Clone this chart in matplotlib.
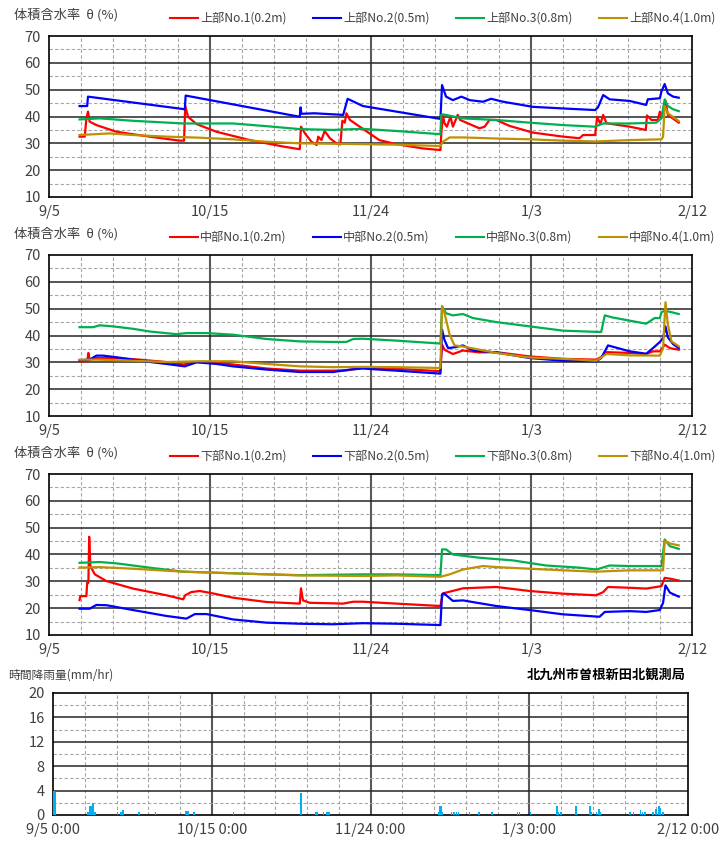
import matplotlib
matplotlib.use("Agg")
import matplotlib.pyplot as plt
from matplotlib.lines import Line2D

plt.rcParams['font.family'] = ['Noto Sans CJK JP', 'DejaVu Sans']

# x axis: days since 9/5 0:00
x_ticks = [0, 40, 80, 120, 160]
x_labels = ["9/5", "10/15", "11/24", "1/3", "2/12"]
rain_x_labels = ["9/5 0:00", "10/15 0:00", "11/24 0:00", "1/3 0:00", "2/12 0:00"]
colors = ["#FF0000", "#0000FF", "#00B050", "#BF9000"]

# ---- 上部 ----
up1_day = [7.6, 8.9, 9.3, 9.7, 10.1, 11.8, 16.8, 25, 32.5, 33.6, 33.9, 34.6, 36.7, 41.7, 50, 58.3, 62.4, 62.7,
           63.7, 65.3, 66.6, 67, 67.8, 68.6, 69.9, 71.5, 72.5, 73, 73.6, 74, 74.9, 78, 82.2, 86.4, 93, 97.4,
           97.6, 98, 98.4, 99, 99.9, 100.5, 101.7, 102.3, 107.1, 108.4, 109.6, 111.3, 114.6, 120.4, 127.9, 132,
           132.9, 135.9, 136.4, 137.2, 137.9, 138.7, 144.5, 148.5, 148.8, 149.9, 151.5, 152, 152.5, 153.4, 154,
           156.7]
up1_val = [32.5, 32.5, 39.3, 41.8, 38.1, 36.8, 34.3, 32.5, 31.0, 31.0, 43.9, 39.9, 37.2, 34.3, 31.2, 28.8, 27.8,
           36.2, 33.7, 30.6, 29.4, 32.5, 31.2, 34.6, 31.9, 30.0, 29.6, 38.4, 37.7, 41.2, 38.7, 35.5, 31.2, 29.7,
           28.1, 27.5, 33.1, 40.6, 37.5, 36.2, 39.9, 36.2, 40.6, 38.7, 35.6, 36.2, 38.7, 38.7, 36.5, 34.0, 32.5,
           31.9, 33.1, 33.1, 39.9, 37.2, 40.6, 37.5, 36.2, 35.0, 40.4, 38.7, 38.7, 41.8, 39.9, 45.9, 40.6, 37.7]
up2_day = [7.6, 9.5, 9.7, 33.8, 34.0, 62.4, 62.6, 62.8, 66, 73.2, 74.3, 78.1, 97.4, 97.8, 98.8, 100.5, 102.6,
           104.7, 108, 110, 113, 120.4, 127.9, 135.9, 136.6, 137.9, 139.5, 144.5, 148.6, 149, 152, 152.4, 153.2,
           154, 155.3, 156.7]
up2_val = [43.9, 43.9, 47.4, 42.7, 47.8, 39.9, 43.4, 41.0, 41.2, 40.6, 46.6, 43.9, 39.1, 51.7, 47.4, 46.1, 47.4,
           46.1, 45.5, 46.6, 45.5, 43.6, 43.0, 42.4, 43.4, 48.0, 46.4, 45.8, 44.3, 46.4, 46.8, 49.3, 52.1, 48.6,
           47.4, 47.0]
up3_day = [7.6, 12.6, 20.9, 33.4, 45.8, 54.1, 62.4, 70.7, 74, 78, 86.4, 97.4, 97.6, 98, 103, 111.3, 119.6, 127.9,
           135.9, 137.9, 144.5, 151.1, 152.4, 153.2, 154, 155.3, 156.7]
up3_val = [38.9, 39.3, 38.4, 37.4, 37.4, 36.4, 35.3, 35.0, 35.2, 35.4, 34.6, 33.4, 40.6, 40.8, 39.3, 38.7, 37.7,
           36.8, 36.2, 37.4, 37.4, 37.7, 39.3, 46.4, 43.9, 42.7, 42.0]
up4_day = [7.6, 12.6, 15.1, 20.9, 29.2, 37.5, 45.8, 54.1, 62.4, 78, 86.4, 97.4, 98, 99.7, 103, 111.3, 119.6, 127.9,
           135.9, 144.5, 152.4, 152.8, 153.2, 154, 156.7]
up4_val = [33.1, 33.5, 33.7, 33.1, 32.5, 32.1, 31.5, 30.6, 30.0, 29.7, 29.5, 29.0, 30.6, 32.2, 32.2, 31.8, 31.5,
           31.0, 30.7, 31.2, 31.5, 32.5, 43.9, 41.2, 38.3]

# ---- 中部 ----
mid1_day = [7.6, 9.5, 9.8, 10.1, 11.8, 16.8, 22.6, 29.2, 33.4, 36.7, 41.7, 45.8, 54.1, 62.4, 70.7, 74, 78, 86.4,
            97.4, 97.8, 98.4, 100.5, 103, 107.1, 111.3, 119.6, 127.9, 136.2, 137.4, 138.7, 144.5, 148.6, 150.3,
            152, 153.2, 154.5, 156.7]
mid1_val = [30.4, 30.4, 33.5, 31.0, 31.6, 31.6, 31.0, 30.1, 29.2, 30.1, 29.8, 29.2, 27.7, 26.9, 26.9, 27.0, 27.9,
            27.6, 26.7, 36.6, 34.7, 33.1, 34.4, 33.7, 33.8, 32.2, 31.3, 31.0, 32.0, 33.8, 33.5, 33.1, 34.1, 34.1,
            36.6, 35.3, 34.7]
mid2_day = [7.6, 10.1, 11.8, 13.4, 16.8, 22.6, 29.2, 33.8, 36.7, 41.7, 45.8, 54.1, 62.4, 70.7, 74.9, 78, 86.4,
            97.4, 97.8, 98.4, 99.3, 100.9, 103, 105.5, 111.3, 119.6, 127.9, 136.2, 137.4, 139.1, 144.5, 148.6,
            150.3, 152, 152.8, 153.4, 154, 155.3, 156.7]
mid2_val = [30.8, 31.0, 32.5, 32.5, 31.9, 30.6, 29.4, 28.5, 30.0, 29.4, 28.5, 27.3, 26.4, 26.4, 27.3, 27.7, 26.9,
            25.8, 42.2, 38.4, 35.3, 35.6, 36.3, 34.4, 33.7, 31.6, 30.6, 30.4, 31.6, 36.3, 34.1, 33.2, 35.3, 37.6,
            39.1, 43.4, 39.3, 36.8, 35.3]
mid3_day = [7.6, 11, 12.6, 15.9, 20.9, 25, 31.7, 34.2, 39.2, 45.8, 54.1, 62.4, 70.7, 74, 75.7, 78, 86.4, 97.4,
            97.8, 98.8, 100.5, 103, 105.5, 111.3, 119.6, 127.9, 137.4, 138.3, 140.3, 148.6, 150.7, 152, 152.4,
            153.2, 154.9, 156.7]
mid3_val = [43.1, 43.1, 43.8, 43.4, 42.5, 41.5, 40.5, 40.9, 40.9, 40.3, 38.7, 37.8, 37.6, 37.6, 38.7, 38.8, 38.1,
            37.0, 50.9, 48.3, 47.5, 48.0, 46.5, 45.0, 43.4, 41.8, 41.3, 47.5, 46.7, 44.4, 46.5, 46.5, 48.7, 49.2,
            48.7, 48.0]
mid4_day = [7.6, 12.6, 20.9, 29.2, 37.5, 45.8, 54.1, 62.4, 70.7, 78, 86.4, 97.4, 97.8, 98.4, 99.7, 100.9, 103,
            111.3, 119.6, 127.9, 136.2, 138.7, 144.5, 152, 152.8, 153.4, 154, 154.9, 156.7]
mid4_val = [31.0, 31.0, 30.6, 30.1, 30.4, 30.4, 29.4, 28.5, 28.2, 28.3, 28.2, 27.9, 50.9, 48.4, 40.3, 36.3, 35.9,
            33.5, 31.8, 31.3, 30.6, 33.1, 32.6, 32.5, 35.3, 52.4, 44.0, 37.8, 36.0]

# ---- 下部 ----
low1_day = [7.6, 7.8, 9.3, 9.5, 9.8, 10.0, 10.3, 11.4, 14.3, 20.9, 29.2, 33.4, 33.9, 35.4, 37.5, 40.8, 45.8,
            54.1, 62.4, 62.7, 63.2, 64.9, 70.7, 73.2, 75.7, 78, 86.4, 97.4, 97.8, 98, 103, 111.3, 119.6, 127.9,
            136.2, 137.9, 139.1, 144.5, 148.6, 152.4, 153.2, 154.5, 156.7]
low1_val = [23.0, 24.5, 24.5, 29.5, 29.5, 46.6, 35.7, 32.6, 30.1, 27.3, 24.8, 23.3, 24.8, 26.0, 26.4, 25.5, 23.9,
            22.3, 21.7, 27.4, 22.9, 22.0, 21.8, 21.7, 22.4, 22.4, 21.7, 20.8, 23.9, 25.5, 27.4, 27.9, 26.4, 25.4,
            24.8, 26.0, 27.9, 27.6, 27.3, 28.2, 31.3, 31.0, 30.3]
low2_day = [7.6, 10.1, 11.8, 14.3, 20.9, 29.2, 34.2, 36.3, 39.2, 45.8, 54.1, 62.4, 70.7, 78, 86.4, 97.4, 97.8,
            98.3, 100.5, 103, 111.3, 119.6, 127.9, 137, 138.3, 144.5, 148.6, 152, 152.8, 153.4, 154.5, 156.7]
low2_val = [19.8, 19.8, 21.2, 21.1, 19.3, 17.1, 16.1, 17.8, 17.8, 15.8, 14.6, 14.2, 14.0, 14.4, 14.2, 13.7, 25.1,
            25.5, 22.7, 22.9, 20.8, 19.3, 17.7, 16.8, 18.6, 18.9, 18.6, 19.3, 22.0, 28.5, 25.8, 24.3]
low3_day = [7.6, 12.6, 16.8, 25, 33.4, 41.7, 50, 62.4, 78, 86.4, 97.4, 97.8, 98.8, 100.5, 107.1, 115.4, 123.7,
            132, 136.2, 139.5, 144.5, 152.4, 153.2, 154.5, 156.7]
low3_val = [36.9, 37.2, 36.7, 35.1, 33.6, 33.2, 32.8, 32.3, 32.6, 32.6, 32.3, 41.9, 41.9, 40.0, 38.8, 37.8, 35.9,
            35.1, 34.4, 35.9, 35.7, 35.7, 45.6, 43.1, 42.1]
low4_day = [7.6, 12.6, 20.9, 33.4, 45.8, 54.1, 62.4, 78, 86.4, 97.4, 99.7, 103, 108, 111.3, 119.6, 127.9, 136.2,
            144.5, 152.8, 153.2, 154.5, 156.7]
low4_val = [35.1, 35.3, 34.7, 33.6, 33.0, 32.6, 32.2, 32.0, 32.2, 31.7, 32.6, 34.4, 35.7, 35.3, 34.7, 34.1, 33.6,
            34.1, 34.1, 45.0, 44.1, 43.4]

# ---- 時間降雨量 ----
rain_day = [0.3, 0.6, 8.8, 9.2, 9.6, 9.9, 10.2, 10.6, 16.2, 17.1, 17.6, 21.7, 25.9, 33.4, 33.8, 34.2, 35.5,
            45.5, 62.5, 66.1, 66.5, 68.1, 69.0, 69.5, 97.1, 97.4, 97.8, 98.1, 100.4, 101.0, 101.6, 102.2, 104.9,
            107.3, 110.6, 117.1, 117.6, 120.3, 127.0, 127.4, 128.0, 131.8, 135.3, 135.7, 136.9, 137.6, 138.0,
            145.4, 146.2, 148.1, 148.6, 149.2, 151.2, 151.9, 152.1, 152.7, 153.1, 153.7]
rain_val = [4.0, 3.8, 0.5, 1.5, 1.5, 1.9, 1.9, 0.5, 0.5, 0.5, 0.9, 0.5, 0.5, 0.6, 0.6, 0.6, 0.5,
            0.5, 3.6, 0.5, 0.5, 0.5, 0.5, 0.5, 0.5, 1.5, 1.5, 0.5, 0.5, 0.5, 0.5, 0.5, 0.5,
            0.5, 0.5, 0.5, 0.5, 0.5, 1.5, 0.5, 0.5, 1.5, 1.5, 0.5, 0.5, 1.0, 0.5,
            0.5, 0.5, 0.9, 0.5, 0.5, 0.5, 1.0, 0.5, 1.5, 1.1, 0.5]

panels = [
    ("上部", [(up1_day, up1_val), (up2_day, up2_val), (up3_day, up3_val), (up4_day, up4_val)]),
    ("中部", [(mid1_day, mid1_val), (mid2_day, mid2_val), (mid3_day, mid3_val), (mid4_day, mid4_val)]),
    ("下部", [(low1_day, low1_val), (low2_day, low2_val), (low3_day, low3_val), (low4_day, low4_val)]),
]
depth_labels = ["No.1(0.2m)", "No.2(0.5m)", "No.3(0.8m)", "No.4(1.0m)"]

W, H = 725, 841
fig = plt.figure(figsize=(W / 100, H / 100), dpi=100)
txt_col = "#404040"


def style_grid(ax, ymin, ymax, ymajor, yminor):
    ax.set_xlim(0, 160)
    ax.set_ylim(ymin, ymax)
    for d in range(8, 160, 8):
        if d % 40:
            ax.axvline(d, color="#A6A6A6", lw=0.8, ls=(0, (3, 2)), zorder=0)
    for d in (40, 80, 120):
        ax.axvline(d, color="#595959", lw=1.5, zorder=0)
    y = ymin + yminor
    while y < ymax:
        ax.axhline(y, color="#A6A6A6", lw=0.8, ls=(0, (3, 2)), zorder=0)
        y += ymajor
    y = ymin + ymajor
    while y < ymax:
        ax.axhline(y, color="#262626", lw=1.1, zorder=0)
        y += ymajor
    ax.tick_params(length=0, labelsize=10.5, labelcolor=txt_col, pad=6)
    for s in ax.spines.values():
        s.set_color("black")
        s.set_linewidth(1.2)


panel_tops = [36, 255, 474]
for (prefix, series), top in zip(panels, panel_tops):
    ax = fig.add_axes([49 / W, 1 - (top + 161) / H, 643 / W, 161 / H])
    for (d, v), c in zip(series, colors):
        ax.plot(d, v, color=c, lw=1.6)
    style_grid(ax, 10, 70, 10, 5)
    ax.set_xticks(x_ticks, x_labels)
    ax.set_yticks(range(10, 71, 10))
    fig.text(14 / W, 1 - (top - 21) / H, "体積含水率  θ (%)", fontsize=9.5, color=txt_col, va="center")
    for i, (c, lab) in enumerate(zip(colors, depth_labels)):
        x0 = 170 + i * 143
        yy = 1 - (top - 18) / H
        fig.add_artist(Line2D([x0 / W, (x0 + 28) / W], [yy, yy], color=c, lw=1.5))
        fig.text((x0 + 30) / W, yy, prefix + lab, fontsize=8.7, color=txt_col, va="center")

# rain panel
axr = fig.add_axes([53 / W, 1 - 815 / H, 635 / W, 122 / H])
axr.bar(rain_day, rain_val, width=0.35, color="#00B0F0", zorder=3)
style_grid(axr, 0, 20, 4, 2)
axr.set_xticks(x_ticks, rain_x_labels)
axr.set_yticks(range(0, 21, 4))
fig.text(8 / W, 1 - 675 / H, "時間降雨量(mm/hr)", fontsize=8.5, color=txt_col, va="center")
fig.text(686 / W, 1 - 675 / H, "北九州市曽根新田北観測局", fontsize=9.5, fontweight="bold",
         color="black", va="center", ha="right")

fig.savefig("out.png", dpi=100)
